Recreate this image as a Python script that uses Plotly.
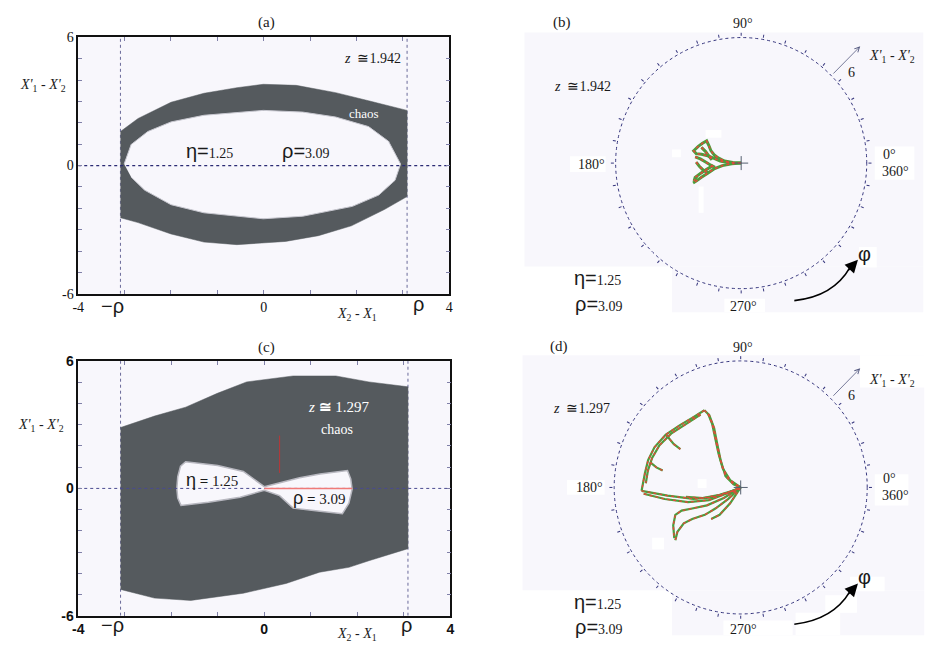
import numpy as np
import plotly.graph_objects as go

W, H = 951, 652

# ---------------- data ----------------
rho = 3.09
eta = 1.25
x_ticks = [-4, 0, 4]
x_ticktext = ['-4', '0', '4']
y_ticks = [-6, 0, 6]
y_ticktext = ['-6', '0', '6']
ang_ticks = [0, 10, 20, 30, 40, 50, 60, 70, 80, 90, 100, 110, 120, 130, 140, 150, 160, 170,
             180, 190, 200, 210, 220, 230, 240, 250, 260, 270, 280, 290, 300, 310, 320, 330, 340, 350]
r_circle = 6

# panel (a): chaotic band, z ≅ 1.942
a_outer_x = [-3.09, -2.71, -2.0, -1.29, -0.58, -0.01, 0.70, 1.55, 2.26, 3.09,
             3.09, 2.60, 1.89, 1.18, 0.47, -0.58, -1.29, -2.0, -2.71, -3.09]
a_outer_y = [1.59, 2.20, 2.96, 3.38, 3.64, 3.80, 3.75, 3.41, 3.03, 2.58,
             -1.45, -2.06, -2.82, -3.28, -3.55, -3.70, -3.58, -3.20, -2.67, -2.44]
a_inner_x = [-3.01, -2.86, -2.50, -2.0, -1.29, -0.01, 0.84, 1.55, 2.26, 2.69, 2.95,
             2.83, 2.48, 1.91, 0.84, -0.01, -1.29, -2.0, -2.57, -2.86]
a_inner_y = [0.07, 0.98, 1.59, 2.04, 2.35, 2.58, 2.50, 2.27, 1.82, 1.13, 0.07,
             -0.69, -1.38, -1.91, -2.37, -2.49, -2.21, -1.83, -1.15, -0.54]

# panel (c): chaotic region, z ≅ 1.297
c_outer_x = [-3.09, -2.36, -1.69, -1.01, -0.38, 0.62, 1.54, 2.25, 3.09,
             3.09, 2.25, 1.82, 1.19, 0.47, -0.45, -1.58, -2.36, -3.09]
c_outer_y = [2.87, 3.41, 3.83, 4.48, 5.02, 5.30, 5.30, 5.02, 4.79,
             -2.84, -3.41, -3.72, -3.95, -4.48, -4.94, -5.28, -5.17, -4.76]
c_hole_x = [0.0, -0.45, -1.0, -1.69, -1.80, -1.86, -1.88, -1.86, -1.79, -1.2, -0.52, 0.0,
            0.33, 0.62, 1.2, 1.68, 1.82, 1.89, 1.86, 1.79, 1.2, 0.76, 0.0]
c_hole_y = [0.08, 0.80, 1.08, 1.26, 1.05, 0.55, 0.0, -0.45, -0.80, -0.65, -0.42, -0.09,
            -0.34, -0.93, -1.08, -1.19, -0.70, -0.04, 0.45, 0.84, 0.68, 0.50, 0.08]
c_red_v_x = [0.33, 0.33]
c_red_v_y = [0.73, 2.49]
c_red_h_x = [0.0, 1.89]
c_red_h_y = [0.0, 0.0]

# panel (b): polar trajectory (Cartesian units of X'1-X'2), z ≅ 1.942
b_arm1_x = [0.0, -0.45, -0.9, -1.3, -1.6, -1.9, -2.15, -2.3]
b_arm1_y = [0.0, -0.03, -0.12, -0.28, -0.48, -0.68, -0.86, -0.95]
b_arm2_x = [-1.35, -1.65, -1.95, -2.2, -2.25, -2.1]
b_arm2_y = [-0.12, -0.30, -0.50, -0.68, -0.85, -0.6]
b_body_x = [0.0, -0.6, -1.0, -1.35, -1.6, -1.9, -2.15, -2.27, -2.05, -1.85, -1.65, -1.55, -1.45, -1.3, -1.1, -0.8, -0.4, 0.0]
b_body_y = [0.0, 0.02, 0.10, 0.25, 0.35, 0.42, 0.45, 0.59, 0.80, 0.95, 1.06, 0.85, 0.60, 0.40, 0.25, 0.10, 0.03, 0.0]
b_in1_x = [-2.2, -1.95, -1.7, -1.45, -1.25]
b_in1_y = [0.30, 0.20, 0.05, -0.10, -0.20]
b_in2_x = [-1.9, -1.7, -1.55, -1.4]
b_in2_y = [0.75, 0.55, 0.35, 0.15]
b_in3_x = [-2.15, -2.0, -1.8, -1.6]
b_in3_y = [0.05, -0.15, -0.35, -0.45]

# panel (d): polar trajectory, z ≅ 1.297
d_left_x = [-1.72, -2.3, -2.86, -3.55, -4.09, -4.39, -4.54, -4.70]
d_left_y = [3.66, 3.30, 2.97, 2.51, 1.90, 1.29, 0.68, -0.16]
d_left2_x = [-1.9, -2.6, -3.3, -3.85, -4.2, -4.4, -4.5]
d_left2_y = [3.45, 3.00, 2.55, 2.00, 1.40, 0.80, 0.20]
d_bottom_x = [-4.70, -3.47, -2.25, -1.34, -0.57, 0.0]
d_bottom_y = [-0.16, -0.39, -0.54, -0.47, -0.24, 0.0]
d_bottom2_x = [-4.6, -3.6, -2.5, -1.5, -0.7, 0.0]
d_bottom2_y = [-0.30, -0.55, -0.70, -0.60, -0.30, 0.0]
d_right_x = [-1.72, -1.49, -1.26, -1.11, -0.95, -0.72, -0.34, 0.0]
d_right_y = [3.66, 3.43, 2.82, 2.05, 1.29, 0.53, 0.15, 0.0]
d_right2_x = [-1.55, -1.35, -1.2, -1.05, -0.85, -0.5, 0.0]
d_right2_y = [3.50, 3.0, 2.3, 1.6, 0.9, 0.35, 0.0]
d_fan1_x = [0.0, -0.8, -1.6, -2.3, -2.8, -3.1, -3.2, -3.15]
d_fan1_y = [0.0, -0.50, -0.85, -1.00, -1.10, -1.30, -1.80, -2.40]
d_fan2_x = [0.0, -0.6, -1.2, -1.7, -2.3, -2.7, -3.0, -3.1]
d_fan2_y = [0.0, -0.55, -1.00, -1.30, -1.50, -1.70, -2.10, -2.50]
d_fan3_x = [0.0, -0.5, -1.0, -1.4]
d_fan3_y = [0.0, -0.75, -1.30, -1.50]
d_fan4_x = [-0.2, -1.0, -1.8, -2.6]
d_fan4_y = [-0.1, -0.35, -0.50, -0.45]
d_br1_x = [-3.55, -3.17, -2.86]
d_br1_y = [2.51, 2.05, 1.82]
d_br2_x = [-4.3, -4.0, -3.7]
d_br2_y = [1.2, 0.95, 0.8]

# ---------------- helpers ----------------
def fx(p):
    return p / W

def fy(p):
    return 1 - p / H

SERIF = 'Liberation Serif, Times New Roman, DejaVu Serif, serif'
SANS = 'Liberation Sans, Arial, sans-serif'
BG = '#f8f7fc'
BAND = '#555a5e'
NAVY = '#2b2b74'
CIRC = '#34347c'


def to_polar(xs, ys):
    xs = np.asarray(xs, float)
    ys = np.asarray(ys, float)
    return np.hypot(xs, ys), np.degrees(np.arctan2(ys, xs))


fig = go.Figure()

# ---- panel (a) ----
fig.add_trace(go.Scatter(x=[-rho, -rho, None, rho, rho], y=[-6, 6, None, -6, 6], mode='lines',
                         line=dict(color='#6a6a9a', width=1, dash='dot'), xaxis='x', yaxis='y'))
fig.add_trace(go.Scatter(x=a_outer_x, y=a_outer_y, fill='toself', fillcolor=BAND, mode='lines',
                         line=dict(color=BAND, width=0.5), xaxis='x', yaxis='y'))
fig.add_trace(go.Scatter(x=a_inner_x, y=a_inner_y, fill='toself', fillcolor=BG, mode='lines',
                         line=dict(color='#c8c8d0', width=1), xaxis='x', yaxis='y'))
fig.add_trace(go.Scatter(x=[-4, 4], y=[0, 0], mode='lines', line=dict(color=NAVY, width=1.2, dash='dot'),
                         xaxis='x', yaxis='y'))

# ---- panel (c) ----
fig.add_trace(go.Scatter(x=[-rho, -rho, None, rho, rho], y=[-6, 6, None, -6, 6], mode='lines',
                         line=dict(color='#6a6a9a', width=1, dash='dot'), xaxis='x2', yaxis='y2'))
fig.add_trace(go.Scatter(x=c_outer_x, y=c_outer_y, fill='toself', fillcolor=BAND, mode='lines',
                         line=dict(color=BAND, width=0.5), xaxis='x2', yaxis='y2'))
fig.add_trace(go.Scatter(x=c_hole_x, y=c_hole_y, fill='toself', fillcolor=BG, mode='lines',
                         line=dict(color='#b8b8c0', width=1.5), xaxis='x2', yaxis='y2'))
fig.add_trace(go.Scatter(x=[-4, 4], y=[0, 0], mode='lines', line=dict(color='#4a4a90', width=1, dash='dot'),
                         xaxis='x2', yaxis='y2'))
fig.add_trace(go.Scatter(x=c_red_h_x, y=c_red_h_y, mode='lines', line=dict(color='#f07a78', width=1.5),
                         xaxis='x2', yaxis='y2'))
fig.add_trace(go.Scatter(x=c_red_v_x, y=c_red_v_y, mode='lines', line=dict(color='#b83838', width=1),
                         xaxis='x2', yaxis='y2'))

# ---- polar panels ----
def add_attractor(paths, subplot, gw, rw):
    for xs, ys in paths:
        r, th = to_polar(xs, ys)
        fig.add_trace(go.Scatterpolar(r=r, theta=th, mode='lines', subplot=subplot,
                                      line=dict(color='#4a9e3c', width=gw)))
    for xs, ys in paths:
        r, th = to_polar(xs, ys)
        fig.add_trace(go.Scatterpolar(r=r, theta=th, mode='lines', subplot=subplot,
                                      line=dict(color='#e04a3a', width=rw, dash='dot')))
    fig.add_trace(go.Scatterpolar(r=[0], theta=[0], mode='markers', subplot=subplot,
                                  marker=dict(symbol='cross-thin', size=10,
                                              line=dict(color='#556070', width=1))))


add_attractor([(b_arm1_x, b_arm1_y), (b_arm2_x, b_arm2_y), (b_body_x, b_body_y),
               (b_in1_x, b_in1_y), (b_in2_x, b_in2_y), (b_in3_x, b_in3_y)], 'polar', 3, 1.6)
add_attractor([(d_left_x, d_left_y), (d_left2_x, d_left2_y), (d_bottom_x, d_bottom_y),
               (d_bottom2_x, d_bottom2_y), (d_right_x, d_right_y), (d_right2_x, d_right2_y),
               (d_fan1_x, d_fan1_y), (d_fan2_x, d_fan2_y), (d_fan3_x, d_fan3_y),
               (d_fan4_x, d_fan4_y), (d_br1_x, d_br1_y), (d_br2_x, d_br2_y)], 'polar2', 2.2, 1.4)

# ---------------- layout ----------------
def cart_axes(dom_x, dom_y, anchor_x, anchor_y, bold):
    if bold:
        tf = dict(family=SANS, size=14, color='#111', weight='bold')
    else:
        tf = dict(family=SERIF, size=14, color='#111')
    common = dict(ticks='inside', ticklen=4, tickcolor='#8080a8', showline=True, linecolor='#111',
                  linewidth=1.5, mirror='ticks', showgrid=False, zeroline=False, tickfont=tf,
                  fixedrange=True)
    xa = dict(domain=dom_x, range=[-4, 4], tickvals=x_ticks, ticktext=x_ticktext, anchor=anchor_y,
              minor=dict(dtick=1, tick0=0, ticks='inside', ticklen=4, tickcolor='#8080a8', showgrid=False),
              **common)
    ya = dict(domain=dom_y, range=[-6, 6], tickvals=y_ticks, ticktext=y_ticktext, anchor=anchor_x,
              minor=dict(dtick=1, tick0=0, ticks='inside', ticklen=4, tickcolor='#8080a8', showgrid=False),
              **common)
    return xa, ya


xa1, ya1 = cart_axes([fx(73), fx(448)], [fy(293), fy(30)], 'x', 'y', False)
xa2, ya2 = cart_axes([fx(73), fx(449)], [fy(623), fy(362)], 'x2', 'y2', True)


def polar_layout(dom_x, dom_y):
    return dict(
        domain=dict(x=dom_x, y=dom_y), bgcolor='rgba(0,0,0,0)',
        radialaxis=dict(range=[0, r_circle * 1.01], tickvals=[r_circle], showticklabels=False, ticks='',
                        showline=False, showgrid=True, gridcolor=CIRC, griddash='dot', gridwidth=1.3),
        angularaxis=dict(rotation=0, direction='counterclockwise', tickvals=ang_ticks,
                         showticklabels=False, showgrid=False, showline=False, ticks='outside',
                         ticklen=3, tickcolor=CIRC, tickwidth=1))


def ann(x, y, text, size=14, color='#1a1a1a', family=SERIF, xanchor='center'):
    return dict(x=fx(x), y=fy(y), xref='paper', yref='paper', text=text, showarrow=False,
                font=dict(size=size, color=color, family=family), xanchor=xanchor, yanchor='middle')


def sym(s, size=20):
    return '<span style="font-family:Liberation Sans;font-size:%dpx">%s</span>' % (size, s)


ylab = "<i>X'</i><sub>1</sub> - <i>X'</i><sub>2</sub>"
xlab = "<i>X</i><sub>2</sub> - <i>X</i><sub>1</sub>"

anns = [
    # (a)
    ann(263, 15, '(a)', 15),
    ann(370, 52, '<i>z</i>  ≅1.942', 14),
    ann(37, 79, ylab, 14),
    ann(362, 108, 'chaos', 13, color='white'),
    ann(180, 147, sym('η=') + '%.2f' % eta, 14, xanchor='left'),
    ann(277, 147, sym('ρ=') + '%.2f' % rho, 14, xanchor='left'),
    ann(108, 305, '−ρ', 20, family=SANS),
    ann(417, 303, 'ρ', 20, family=SANS),
    ann(355, 314, xlab, 14),
    # (c)
    ann(263, 348, '(c)', 15),
    ann(337, 409, '<i>z</i> <b>≅</b> 1.297', 15, color='white'),
    ann(335, 432, 'chaos', 14, color='white'),
    ann(180, 484, sym('η', 18) + ' <b>=</b> %.2f' % eta, 15, xanchor='left'),
    ann(288, 502, sym('ρ', 18) + ' <b>=</b> %.2f' % rho, 15, xanchor='left'),
    ann(35, 428, ylab, 14),
    ann(108, 633, '−ρ', 20, family=SANS),
    ann(405, 633, 'ρ', 20, family=SANS),
    ann(355, 642, xlab, 14),
    # (b)
    ann(562, 15, '(b)', 15),
    ann(583, 80, '<i>z</i>  ≅1.942', 14),
    ann(572, 277, sym('η=') + '%.2f' % eta, 14, xanchor='left'),
    ann(573, 303, sym('ρ=') + '%.2f' % rho, 14, xanchor='left'),
    ann(854, 66, '6', 14),
    ann(870, 50, ylab, 14, xanchor='left'),
    ann(868, 252, 'φ', 20, family=SANS),
    ann(745, 16, '90°', 14),
    ann(592, 160, '180°', 14),
    ann(893, 150, '0°', 14),
    ann(899, 168, '360°', 14),
    ann(745, 306, '270°', 14),
    # (d)
    ann(559, 347, '(d)', 15),
    ann(582, 411, '<i>z</i>  ≅1.297', 14),
    ann(572, 609, sym('η=') + '%.2f' % eta, 14, xanchor='left'),
    ann(573, 635, sym('ρ=') + '%.2f' % rho, 14, xanchor='left'),
    ann(854, 397, '6', 14),
    ann(870, 382, ylab, 14, xanchor='left'),
    ann(868, 583, 'φ', 20, family=SANS),
    ann(745, 348, '90°', 14),
    ann(590, 492, '180°', 14),
    ann(893, 482, '0°', 14),
    ann(899, 500, '360°', 14),
    ann(745, 637, '270°', 14),
]

# arrows
for hx, hy, tx, ty in [(863.3, 39.3, 835, 68), (863.3, 369.3, 835, 398.3)]:
    anns.append(dict(x=fx(hx), y=fy(hy), xref='paper', yref='paper', text='', showarrow=True,
                     ax=tx - hx, ay=ty - hy, arrowhead=5, arrowsize=1.2, arrowwidth=0.8,
                     arrowcolor='#555a80'))
for hx, hy in [(861, 258), (861, 590)]:
    anns.append(dict(x=fx(hx), y=fy(hy), xref='paper', yref='paper', text='', showarrow=True,
                     ax=-11, ay=12, arrowhead=2, arrowsize=1.6, arrowwidth=1.6, arrowcolor='black'))

shapes = []
def rect(x0, y0, x1, y1, color, layer='below'):
    shapes.append(dict(type='rect', xref='paper', yref='paper', x0=fx(x0), x1=fx(x1), y0=fy(y1), y1=fy(y0),
                       fillcolor=color, line=dict(width=0), layer=layer))

# lavender backgrounds of polar panels with white label patches
rect(524, 25, 927, 265, BG)
rect(673, 265, 927, 312, BG)
rect(570, 152, 606, 168, 'white')
rect(878, 142, 918, 176, 'white')
rect(726, 298, 767, 312, 'white')
rect(862, 245, 880, 266, 'white')
rect(707, 125, 723, 133, 'white')
rect(673, 145, 682, 153, 'white')
rect(700, 183, 705, 210, 'white')

rect(522, 356, 928, 597, BG)
rect(673, 597, 928, 643, BG)
rect(863, 356, 930, 389, 'white')
rect(567, 484, 605, 499, 'white')
rect(878, 478, 912, 510, 'white')
rect(853, 583, 888, 598, 'white')
rect(828, 602, 860, 620, 'white')
rect(798, 620, 843, 643, 'white')
rect(725, 628, 795, 643, 'white')
rect(699, 483, 708, 492, 'white')
rect(653, 543, 665, 555, 'white')

# curved φ arrows
for (sx, sy, cx, cy, ex, ey) in [(796.7, 300, 836, 296, 853, 266), (796.7, 631.7, 836, 627, 853, 598)]:
    shapes.append(dict(type='path', xref='paper', yref='paper', layer='above',
                       path='M %.5f,%.5f Q %.5f,%.5f %.5f,%.5f' % (fx(sx), fy(sy), fx(cx), fy(cy), fx(ex), fy(ey)),
                       line=dict(color='black', width=1.6)))

fig.update_layout(
    width=W, height=H, margin=dict(l=0, r=0, t=0, b=0), paper_bgcolor='white', plot_bgcolor=BG,
    showlegend=False, font=dict(family=SERIF, size=14, color='#1a1a1a'),
    xaxis=xa1, yaxis=ya1, xaxis2=xa2, yaxis2=ya2,
    polar=polar_layout([fx(613), fx(873)], [fy(289), fy(29)]),
    polar2=polar_layout([fx(611.5), fx(873.5)], [fy(622.5), fy(360.5)]),
    annotations=anns, shapes=shapes,
)

fig.write_html('out.html')
